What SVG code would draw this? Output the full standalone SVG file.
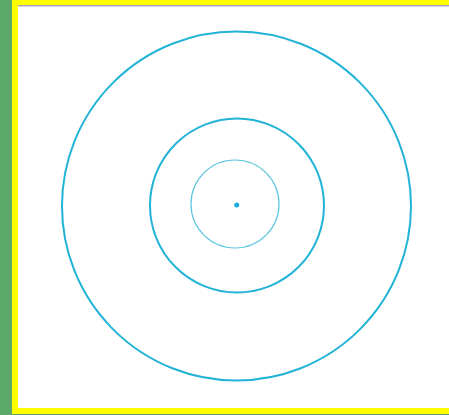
<svg xmlns="http://www.w3.org/2000/svg" width="449" height="415" viewBox="0 0 449 415">
<style>
.ring{fill:none;stroke:#22b3d6;stroke-width:2}
</style>
<rect x="0" y="0" width="449" height="415" fill="#ffffff"/>
<rect x="0" y="0" width="12" height="415" fill="#5aa86a"/>
<rect x="12" y="0" width="437" height="5" fill="#ffff00"/>
<rect x="12" y="0" width="6" height="415" fill="#ffff00"/>
<rect x="12" y="408" width="437" height="6" fill="#ffff00"/>
<rect x="12" y="414" width="437" height="1" fill="#5aa86a"/>
<rect x="18" y="5" width="431" height="1.5" fill="#a8a8c0"/>
<g id="outer"><circle class="ring" cx="236.5" cy="206" r="174.5"/></g>
<g id="middle"><circle class="ring" cx="237" cy="205.5" r="87"/></g>
<g id="inner"><circle cx="235" cy="204" r="44" fill="none" stroke="#5cc6df" stroke-width="1.2"/></g>
<g id="center"><circle cx="236.7" cy="205" r="2.5" fill="#1aaee0"/></g>
</svg>
